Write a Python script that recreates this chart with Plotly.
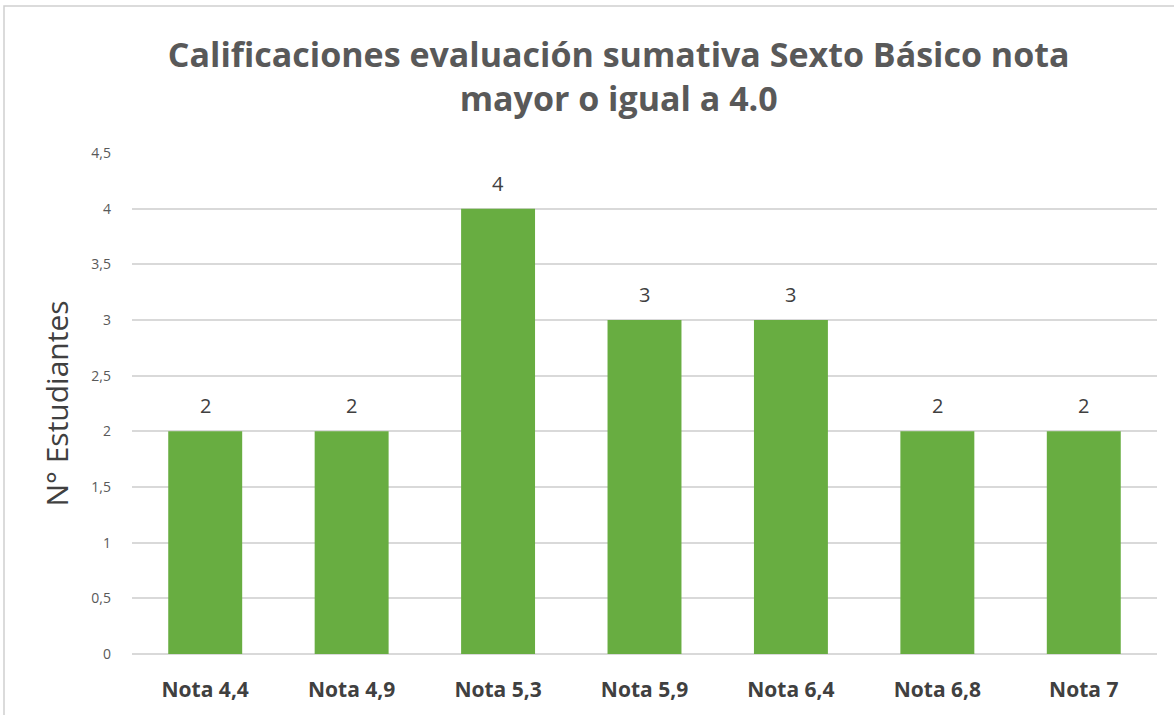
import plotly.graph_objects as go

categories = ["Nota 4,4", "Nota 4,9", "Nota 5,3", "Nota 5,9", "Nota 6,4", "Nota 6,8", "Nota 7"]
values = [2, 2, 4, 3, 3, 2, 2]
tick_vals = [0, 0.5, 1, 1.5, 2, 2.5, 3, 3.5, 4, 4.5]
tick_text = ["0", "0,5", "1", "1,5", "2", "2,5", "3", "3,5", "4", "4,5"]

W, H = 1174, 715
ML, MR, MT, MB = 132, 17, 153, 61
pw, ph = W - ML - MR, H - MT - MB

fig = go.Figure()
fig.add_trace(go.Bar(
    x=categories, y=values,
    marker=dict(color="#68ad41", line=dict(width=0)),
    width=0.505,
    hoverinfo="x+y",
))

for c, v in zip(categories, values):
    fig.add_annotation(x=c, y=v, text=str(v), showarrow=False,
                       yanchor="bottom", yshift=10,
                       font=dict(size=20, color="#404040", family="Open Sans"))

# chart-area border (top and left edges visible)
x0 = (4 - ML) / pw
x1 = (W + 5 - ML) / pw
y_top = (H - MB - 6) / ph
y_bot = -(MB + 5) / ph
fig.add_shape(type="rect", xref="paper", yref="paper", x0=x0, x1=x1, y0=y_bot, y1=y_top,
              line=dict(color="#d0d0d0", width=1.5), fillcolor="rgba(0,0,0,0)", layer="below")

fig.update_layout(
    width=W, height=H,
    margin=dict(l=ML, r=MR, t=MT, b=MB),
    paper_bgcolor="white", plot_bgcolor="white",
    title=dict(
        text="<b>Calificaciones evaluación sumativa Sexto Básico nota<br>mayor o igual a 4.0</b>",
        x=0.527, xanchor="center", y=1 - 67 / H, yanchor="middle",
        font=dict(family="Open Sans", size=34, color="#595959"),
    ),
    font=dict(family="Open Sans"),
    showlegend=False,
    xaxis=dict(
        showgrid=False, showline=False, zeroline=False,
        tickfont=dict(size=21, color="#404040", family="Open Sans"),
        tickprefix="<b>", ticksuffix="</b>",
        ticks="", ticklabelstandoff=21,
    ),
    yaxis=dict(
        range=[0, 4.5], tickvals=tick_vals, ticktext=tick_text,
        showgrid=True, gridcolor="#d9d9d9", gridwidth=1.5,
        zeroline=True, zerolinecolor="#d9d9d9", zerolinewidth=1.5,
        showline=False, ticks="",
        tickfont=dict(size=14, color="#595959", family="Open Sans"),
        ticklabelstandoff=20,
        title=dict(text="N° Estudiantes", font=dict(size=30, color="#404040", family="Open Sans"), standoff=13),
    ),
)

fig.write_html("out.html", config={"displayModeBar": False},
               post_script="document.body.style.margin='0';document.body.style.overflow='hidden';")
